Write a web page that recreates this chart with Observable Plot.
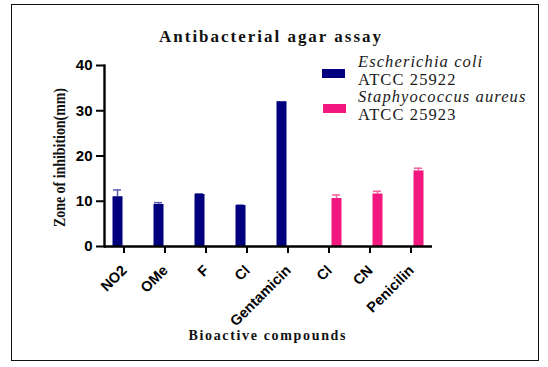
<!DOCTYPE html>
<html>
<head>
<meta charset="utf-8">
<script src="https://cdn.jsdelivr.net/npm/d3@7"></script>
<script src="https://cdn.jsdelivr.net/npm/@observablehq/plot@0.6"></script>
<style>
  html, body { margin: 0; padding: 0; background: #fff; }
  #wrap { position: relative; width: 548px; height: 367px; overflow: hidden; background: #fff; }
  #border { position: absolute; left: 11px; top: 4px; width: 528px; height: 357px; border: 1px solid #111; box-sizing: border-box; pointer-events: none; }
  #chart { position: absolute; left: 0; top: 0; }
  .legend { position: absolute; font-family: "Liberation Serif", "Times New Roman", serif; font-size: 16.5px; line-height: 17.4px; letter-spacing: 1.1px; color: #1a1a1a; white-space: nowrap; }
  .legend i { font-style: italic; }
  .sw { position: absolute; width: 23px; height: 9px; }
</style>
</head>
<body>
<div id="wrap">
  <div id="chart"></div>
  <div id="border"></div>
</div>
<script>
// ---- data ----
const categoryLabels = ["NO2", "OMe", "F", "Cl", "Gentamicin", "Cl", "CN", "Penicilin"];
const ecoliValues = [11.0, 9.3, 11.5, 9.05, 32.0, null, null, null];
const ecoliErrors = [1.5, 0.4, 0.15, 0.1, 0, null, null, null];
const saureusValues = [null, null, null, null, null, 10.6, 11.6, 16.7];
const saureusErrors = [null, null, null, null, null, 0.8, 0.6, 0.6];
const seriesNames = ["Escherichia coli", "Staphyococcus aureus"];
const seriesStrains = ["ATCC 25922", "ATCC 25923"];
const yTicks = [0, 10, 20, 30, 40];
const chartTitle = "Antibacterial agar assay";
const xTitle = "Bioactive compounds";
const yTitle = "Zone of inhibition(mm)";

const navy = "#00007f";
const pink = "#f2187f";
const navyErr = "#5c5cb0";
const pinkErr = "#f0609f";

const idx = categoryLabels.map((_, i) => i);
const ecoliRows = idx.filter(i => ecoliValues[i] != null).map(i => ({i, v: ecoliValues[i], e: ecoliValues[i] + ecoliErrors[i]}));
const saureusRows = idx.filter(i => saureusValues[i] != null).map(i => ({i, v: saureusValues[i], e: saureusValues[i] + saureusErrors[i]}));

const sans = "'Liberation Sans', Arial, sans-serif";
const serif = "'Liberation Serif', 'Times New Roman', serif";

const plot = Plot.plot({
  width: 548,
  height: 367,
  marginLeft: 104,
  marginRight: 116,
  marginTop: 65,
  marginBottom: 121,
  style: {background: "transparent", overflow: "visible", color: "#000"},
  x: {type: "band", domain: idx, range: [100.95, 432.95], padding: 0},
  y: {domain: [0, 40]},
  marks: [
    // error bars (behind bars)
    Plot.ruleX(ecoliRows, {x: "i", y1: "v", y2: "e", dx: -6.5, stroke: navyErr, strokeWidth: 1.5}),
    Plot.tickY(ecoliRows.filter(d => d.e > d.v), {x: "i", y: "e", stroke: navyErr, strokeWidth: 1.5, insetLeft: 10, insetRight: 23}),
    Plot.ruleX(saureusRows, {x: "i", y1: "v", y2: "e", dx: 7.5, stroke: pinkErr, strokeWidth: 1.5}),
    Plot.tickY(saureusRows, {x: "i", y: "e", stroke: pinkErr, strokeWidth: 1.5, insetLeft: 24, insetRight: 9}),
    // bars
    Plot.barY(ecoliRows, {x: "i", y: "v", fill: navy, insetLeft: 9.5, insetRight: 21.5}),
    Plot.barY(saureusRows, {x: "i", y: "v", fill: pink, insetLeft: 23.5, insetRight: 7.5}),
    // axis lines
    Plot.ruleY([0], {stroke: "#000", strokeWidth: 2.4}),
    Plot.frame({anchor: "left", stroke: "#000", strokeWidth: 2.4}),
    Plot.axisY({ticks: yTicks, tickSize: 8, tickPadding: 4, strokeWidth: 2, label: null,
      fontSize: 15, fontWeight: "bold", fontFamily: sans, tickFormat: d => String(d)}),
    Plot.axisX({tickSize: 7, strokeWidth: 2, label: null, tickFormat: () => ""}),
    // rotated category labels
    Plot.text(idx, {x: d => d, frameAnchor: "bottom", text: i => categoryLabels[i], rotate: -45,
      textAnchor: "end", lineAnchor: "middle", dx: 0.5, dy: 21.5,
      fontSize: 14.5, fontWeight: "bold", fontFamily: sans, fill: "#000"}),
    // titles
    Plot.text([chartTitle], {frameAnchor: "top", textAnchor: "middle", lineAnchor: "middle", dx: 1.5, dy: -29, fontFamily: serif, fontWeight: "bold", fontSize: 17, fill: "#111"}),
    Plot.text([xTitle], {frameAnchor: "bottom", textAnchor: "middle", lineAnchor: "middle", dx: -1.5, dy: 89, fontFamily: serif, fontWeight: "bold", fontSize: 14, fill: "#111"}),
    Plot.text([yTitle], {frameAnchor: "left", textAnchor: "middle", lineAnchor: "middle", dx: -44.5, dy: 1.5, rotate: -90, fontFamily: serif, fontWeight: "bold", fontSize: 16, fill: "#111"})
  ]
});
document.getElementById("chart").appendChild(plot);

// stretch text labels to the reference lengths
const svg = d3.select(plot);
const byText = s => svg.selectAll("text").filter(function() { return this.textContent === s; });
byText(chartTitle).attr("textLength", 222).attr("lengthAdjust", "spacing");
byText(xTitle).attr("textLength", 157).attr("lengthAdjust", "spacing");
byText(yTitle).attr("textLength", 139).attr("lengthAdjust", "spacingAndGlyphs");

// legend (HTML)
const wrap = document.getElementById("wrap");
const legendItems = [
  {color: navy, sw: [322, 69], text: [358, 53.3]},
  {color: pink, sw: [323, 103.5], text: [358, 88.3]}
];
legendItems.forEach((it, k) => {
  const s = document.createElement("div");
  s.className = "sw";
  s.style.left = it.sw[0] + "px";
  s.style.top = it.sw[1] + "px";
  s.style.background = it.color;
  wrap.appendChild(s);
  const t = document.createElement("div");
  t.className = "legend";
  t.style.left = it.text[0] + "px";
  t.style.top = it.text[1] + "px";
  t.innerHTML = "<i>" + seriesNames[k] + "</i><br>" + seriesStrains[k];
  wrap.appendChild(t);
});
</script>
</body>
</html>
